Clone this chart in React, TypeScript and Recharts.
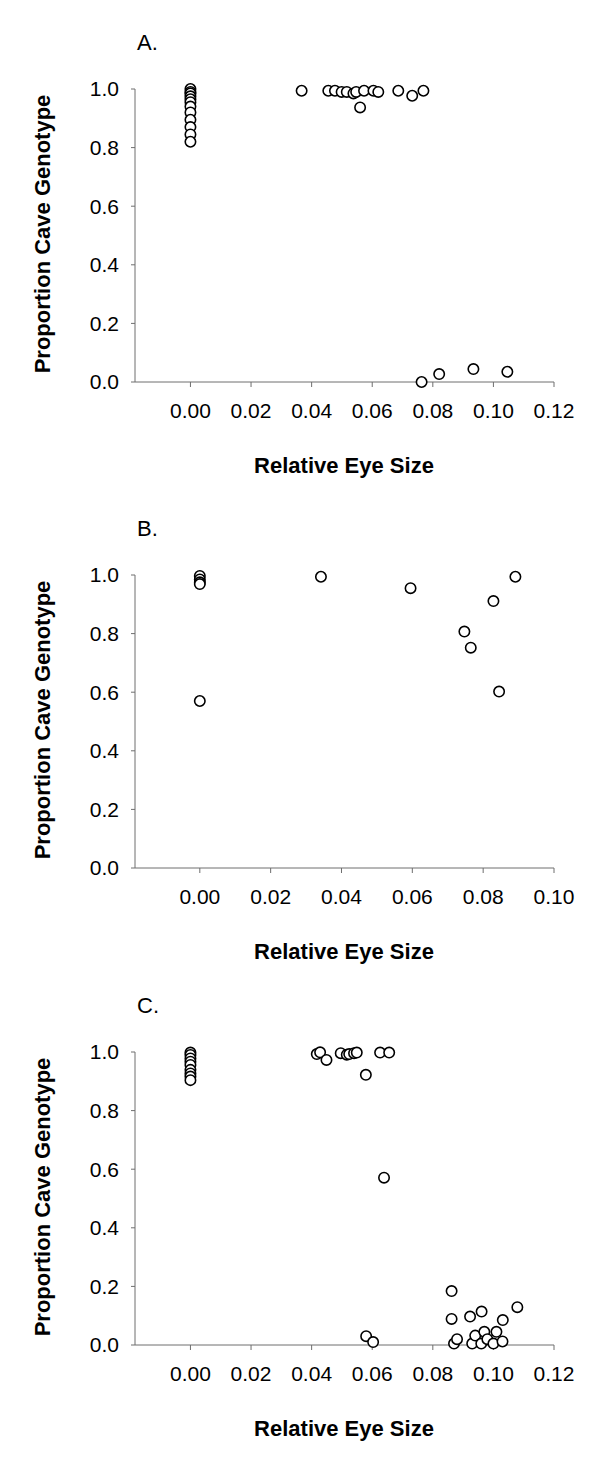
import React from 'react'
import { ScatterChart, Scatter, XAxis, YAxis } from 'recharts'

const FONT = '"Liberation Sans", Arial, sans-serif'

// Panel A
const aEye = [
  0, 0, 0, 0, 0, 0, 0, 0, 0, 0, 0, 0,
  0.0367, 0.0455, 0.0477, 0.0499, 0.0516, 0.0538, 0.0547, 0.0573, 0.0604, 0.062, 0.0686, 0.0732, 0.0769, 0.056,
  0.0763, 0.0821, 0.0934, 0.1046,
]
const aCave = [
  1.0, 0.99, 0.985, 0.975, 0.965, 0.955, 0.94, 0.92, 0.895, 0.87, 0.845, 0.82,
  0.994, 0.994, 0.994, 0.99, 0.99, 0.985, 0.99, 0.994, 0.994, 0.99, 0.994, 0.977, 0.994, 0.937,
  0.0, 0.027, 0.044, 0.035,
]

// Panel B
const bEye = [0, 0, 0, 0, 0, 0.0342, 0.0595, 0.0747, 0.0765, 0.0829, 0.0845, 0.0891]
const bCave = [0.997, 0.985, 0.975, 0.969, 0.57, 0.994, 0.955, 0.807, 0.752, 0.911, 0.602, 0.994]

// Panel C
const cEye = [
  0, 0, 0, 0, 0, 0, 0, 0, 0,
  0.0417, 0.0428, 0.0449, 0.0496, 0.0516, 0.0524, 0.054, 0.0549, 0.0579, 0.0626, 0.0656,
  0.0639,
  0.058, 0.0603,
  0.0862, 0.1079, 0.0961, 0.0923, 0.0862, 0.1031,
  0.087, 0.088, 0.093, 0.094, 0.096, 0.097, 0.098, 0.1, 0.101, 0.103,
]
const cCave = [
  0.998, 0.99, 0.978, 0.967, 0.956, 0.939, 0.927, 0.916, 0.904,
  0.993, 0.999, 0.973, 0.996, 0.991, 0.993, 0.996, 0.998, 0.922, 0.998, 0.998,
  0.571,
  0.03, 0.01,
  0.184, 0.129, 0.114, 0.097, 0.089, 0.085,
  0.005, 0.02, 0.005, 0.032, 0.005, 0.045, 0.02, 0.005, 0.045, 0.012,
]

const yTicks = [0, 0.2, 0.4, 0.6, 0.8, 1.0]
const xTicksWide = [0, 0.02, 0.04, 0.06, 0.08, 0.1, 0.12]
const xTicksNarrow = [0, 0.02, 0.04, 0.06, 0.08, 0.1]

const toPoints = (xs: number[], ys: number[]) => xs.map((x, i) => ({ x, y: ys[i] }))

const Dot = (props: any) => (
  <circle cx={props.cx} cy={props.cy} r={5.2} fill="#fff" stroke="#000" strokeWidth={1.6} />
)

const PLOT_H = 293
const TOP_PAD = 60
const AXIS_H = 110

function Panel({ plotTop, letter, xs, ys, xTicks, xMax }: any) {
  const chartTop = plotTop - TOP_PAD
  const axisColor = '#6e6e6e'
  const tickStyle = { fontSize: 21, fill: '#000', fontFamily: FONT }
  return (
    <>
      <div style={{ position: 'absolute', left: 137, top: plotTop - 46, fontSize: 22, fontFamily: FONT, lineHeight: 1, transform: 'translateY(-50%)' }}>
        {letter}
      </div>
      <div style={{ position: 'absolute', left: 43, top: plotTop + PLOT_H / 2 - 2, fontSize: 22, fontWeight: 'bold', fontFamily: FONT, lineHeight: 1, whiteSpace: 'nowrap', transform: 'translate(-50%, -50%) rotate(-90deg)' }}>
        Proportion Cave Genotype
      </div>
      <div style={{ position: 'absolute', left: 344, top: plotTop + PLOT_H + 84, fontSize: 22, fontWeight: 'bold', fontFamily: FONT, lineHeight: 1, whiteSpace: 'nowrap', transform: 'translate(-50%, -50%)' }}>
        Relative Eye Size
      </div>
      <div style={{ position: 'absolute', left: 0, top: chartTop }}>
        <ScatterChart width={600} height={TOP_PAD + PLOT_H + AXIS_H} margin={{ top: TOP_PAD, right: 46, bottom: 0, left: 0 }}>
          <XAxis
            type="number"
            dataKey="x"
            domain={[-0.0183, xMax]}
            ticks={xTicks}
            allowDataOverflow
            tickFormatter={(v: number) => v.toFixed(2)}
            tick={tickStyle}
            stroke={axisColor}
            tickSize={5}
            tickMargin={16}
            height={AXIS_H}
          />
          <YAxis
            type="number"
            dataKey="y"
            domain={[0, 1]}
            ticks={yTicks}
            tickFormatter={(v: number) => v.toFixed(1)}
            tick={tickStyle}
            stroke={axisColor}
            tickSize={4}
            tickMargin={12}
            width={135}
          />
          <Scatter data={toPoints(xs, ys)} shape={Dot} isAnimationActive={false} />
        </ScatterChart>
      </div>
    </>
  )
}

export default function App() {
  return (
    <div style={{ position: 'absolute', left: 0, top: 0, width: 600, height: 1474, background: '#fff' }}>
      <Panel plotTop={89} letter="A." xs={aEye} ys={aCave} xTicks={xTicksWide} xMax={0.12} />
      <Panel plotTop={575} letter="B." xs={bEye} ys={bCave} xTicks={xTicksNarrow} xMax={0.1} />
      <Panel plotTop={1052} letter="C." xs={cEye} ys={cCave} xTicks={xTicksWide} xMax={0.12} />
    </div>
  )
}
